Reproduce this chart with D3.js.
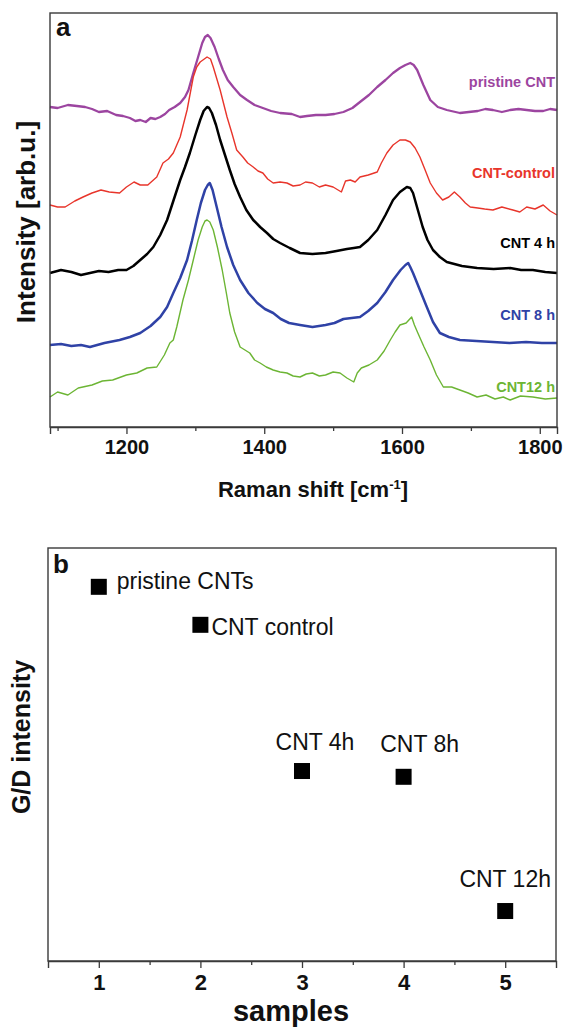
<!DOCTYPE html>
<html><head><meta charset="utf-8">
<script src="https://cdn.jsdelivr.net/npm/d3@7"></script>
<style>body{margin:0;background:#fff}svg{display:block}</style>
</head><body>
<svg id="c" width="567" height="1028"></svg>
<script>
// ---------- Panel a : Raman spectra (wavenumber cm-1, intensity arb.u. incl. offset) ----------
const pristineCNT = [[1089,318],[1100,317],[1115,320],[1128,319],[1140,318],[1150,316],[1160,313],[1172,314],[1185,310],[1195,309],[1205,307],[1213,304],[1220,305],[1228,303],[1235,307],[1242,306],[1249,308],[1256,311],[1262,315],[1270,318],[1278,322],[1285,328],[1290,335],[1297,352],[1304,368],[1310,382],[1314,388],[1318,390],[1322,387],[1328,378],[1334,366],[1340,355],[1347,345],[1355,338],[1365,330],[1375,325],[1386,320],[1398,317],[1410,314],[1423,312],[1440,311],[1452,308],[1462,309],[1475,310],[1489,310],[1502,311],[1515,313],[1528,317],[1539,323],[1552,330],[1564,338],[1576,345],[1587,352],[1597,357],[1605,360],[1612,362],[1617,360],[1622,355],[1631,340],[1641,325],[1652,318],[1665,315],[1684,312],[1697,313],[1710,314],[1721,316],[1732,315],[1745,313],[1757,315],[1769,316],[1781,315],[1793,314],[1805,314],[1815,316],[1825,315]];
const cntControl = [[1089,220],[1100,218],[1111,218],[1125,224],[1137,228],[1150,232],[1163,235],[1175,233],[1190,232],[1200,238],[1211,243],[1220,240],[1231,240],[1244,248],[1253,262],[1261,266],[1268,272],[1278,288],[1288,315],[1297,348],[1302,358],[1307,363],[1317,368],[1322,366],[1326,358],[1336,335],[1346,308],[1353,292],[1360,275],[1369,268],[1376,262],[1384,258],[1391,254],[1398,252],[1405,246],[1413,242],[1423,243],[1433,242],[1442,239],[1452,240],[1460,243],[1470,242],[1480,238],[1489,240],[1500,238],[1512,233],[1518,244],[1525,245],[1532,243],[1539,248],[1551,250],[1564,253],[1570,262],[1578,272],[1587,280],[1597,285],[1605,285],[1612,283],[1619,277],[1626,268],[1633,256],[1641,242],[1650,232],[1659,225],[1668,228],[1676,233],[1684,228],[1692,222],[1699,218],[1710,217],[1720,216],[1732,215],[1745,218],[1761,215],[1771,213],[1781,218],[1793,216],[1805,220],[1815,214],[1825,210]];
const cnt4h = [[1089,152],[1105,155],[1120,153],[1134,150],[1147,152],[1160,154],[1174,153],[1188,155],[1200,155],[1210,159],[1220,165],[1230,171],[1239,178],[1249,190],[1259,205],[1268,224],[1278,245],[1285,258],[1292,272],[1300,290],[1307,305],[1312,314],[1317,318],[1320,317],[1324,312],[1330,300],[1336,285],[1343,270],[1350,255],[1357,241],[1365,228],[1374,215],[1384,205],[1394,198],[1404,192],[1413,186],[1423,182],[1437,177],[1452,172],[1470,171],[1489,172],[1505,174],[1520,176],[1530,177],[1539,178],[1551,185],[1564,195],[1576,210],[1587,225],[1597,233],[1607,238],[1612,237],[1616,232],[1623,215],[1630,198],[1637,185],[1645,175],[1655,168],[1665,163],[1687,159],[1709,157],[1733,156],[1757,157],[1773,155],[1790,155],[1808,153],[1825,152]];
const cnt8h = [[1089,80],[1105,81],[1120,79],[1134,80],[1147,78],[1168,82],[1190,85],[1205,88],[1220,92],[1235,99],[1249,108],[1259,118],[1268,132],[1278,147],[1288,165],[1295,184],[1302,205],[1308,222],[1314,235],[1318,240],[1321,242],[1325,235],[1331,218],[1338,198],[1346,178],[1355,160],[1365,145],[1377,132],[1390,122],[1401,116],[1413,112],[1424,106],[1436,102],[1452,100],[1470,98],[1489,100],[1502,102],[1515,106],[1527,107],[1539,108],[1551,114],[1564,122],[1576,133],[1587,145],[1598,155],[1605,160],[1609,162],[1612,158],[1616,152],[1626,135],[1636,118],[1645,103],[1655,92],[1668,88],[1684,85],[1708,84],[1732,83],[1756,82],[1780,83],[1803,82],[1825,82]];
const cnt12h = [[1089,28],[1100,33],[1115,30],[1130,37],[1150,40],[1165,44],[1180,45],[1200,50],[1215,52],[1230,57],[1244,58],[1255,70],[1263,82],[1268,85],[1273,98],[1282,125],[1290,145],[1297,165],[1304,185],[1310,198],[1314,204],[1317,205],[1321,203],[1326,195],[1332,178],[1339,155],[1345,132],[1350,112],[1357,93],[1365,78],[1372,75],[1379,72],[1386,65],[1394,62],[1403,58],[1413,55],[1423,53],[1433,52],[1442,49],[1452,48],[1461,51],[1470,52],[1480,49],[1489,50],[1500,53],[1510,52],[1520,47],[1530,43],[1535,52],[1541,57],[1552,60],[1564,65],[1574,74],[1583,85],[1590,93],[1597,100],[1606,102],[1614,108],[1618,100],[1623,92],[1632,78],[1641,65],[1650,50],[1660,38],[1672,38],[1684,35],[1696,32],[1709,28],[1722,30],[1735,26],[1747,28],[1757,25],[1772,29],[1790,28],[1808,26],[1825,27]];
const spectraNames = ["pristine CNT","CNT-control","CNT 4 h","CNT 8 h","CNT12 h"];
const ramanTicks = [1200,1400,1600,1800];
const ramanMinorTicks = [1100,1300,1500,1700];

// ---------- Panel b : G/D intensity per sample ----------
const samples = [1,2,3,4,5];
const sampleNames = ["pristine CNTs","CNT control","CNT 4h","CNT 8h","CNT 12h"];
const gdIntensity = [0.906,0.814,0.460,0.446,0.121];
const sampleMinorTicks = [1.5,2.5,3.5,4.5];

// ---------- styling / layout ----------
const spectra = [pristineCNT, cntControl, cnt4h, cnt8h, cnt12h];
const spectraColors = ["#9c45a0","#e8352b","#000000","#2f42a6","#6cb534"];
const spectraWidths = [2.3,1.4,2.5,2.5,1.4];
const spectraLabelY = [82,173,243,315,387];
const sampleLabelStyle = [
  {anchor:"start", dx:18, dy:2},
  {anchor:"start", dx:11, dy:10},
  {anchor:"middle", dx:13, dy:-21},
  {anchor:"middle", dx:16, dy:-25},
  {anchor:"middle", dx:0, dy:-24}
];
const FONT = "'Liberation Sans', Arial, Helvetica, sans-serif";
const FRAME = "#3a3a3a";

const svg = d3.select("#c");
svg.append("rect").attr("width",567).attr("height",1028).attr("fill","#fff");

// ===== Panel a =====
const A = {l:50, r:557, t:13, b:427};
const xa = d3.scaleLinear().domain([1089,1825]).range([A.l, A.r]);
const ya = d3.scaleLinear().domain([-2,412]).range([A.b, A.t]);
const ga = svg.append("g");

const line = d3.line().x(d=>xa(d[0])).y(d=>ya(d[1]));
spectra.forEach((s,i)=>{
  ga.append("path").datum(s).attr("d",line).attr("fill","none")
    .attr("stroke",spectraColors[i]).attr("stroke-width",spectraWidths[i])
    .attr("stroke-linejoin","round");
  ga.append("text").attr("x",A.r-2).attr("y",spectraLabelY[i]).attr("dy","0.35em")
    .attr("text-anchor","end").attr("font-family",FONT).attr("font-weight","bold")
    .attr("font-size",14.5).attr("fill",spectraColors[i]).text(spectraNames[i]);
});

// frame
ga.append("rect").attr("x",A.l).attr("y",A.t).attr("width",A.r-A.l).attr("height",A.b-A.t)
  .attr("fill","none").attr("stroke",FRAME).attr("stroke-width",1.4);

// x axis major + minor
const axA = ga.append("g").attr("transform",`translate(0,${A.b})`)
  .call(d3.axisBottom(xa).tickValues(ramanTicks).tickSize(7).tickPadding(6).tickFormat(d3.format("d")));
axA.select(".domain").attr("stroke",FRAME).attr("stroke-width",1.4);
axA.selectAll(".tick line").attr("stroke",FRAME).attr("stroke-width",1.3);
axA.selectAll(".tick text").attr("font-family",FONT).attr("font-weight","bold").attr("font-size",20).attr("fill","#111");
const axAm = ga.append("g").attr("transform",`translate(0,${A.b})`)
  .call(d3.axisBottom(xa).tickValues(ramanMinorTicks).tickSize(4).tickFormat(""));
axAm.select(".domain").remove();
axAm.selectAll(".tick line").attr("stroke",FRAME).attr("stroke-width",1.3);

// titles
const xt = ga.append("text").attr("x",313).attr("y",497).attr("text-anchor","middle")
  .attr("font-family",FONT).attr("font-weight","bold").attr("font-size",22).attr("fill","#111");
xt.append("tspan").text("Raman shift [cm");
xt.append("tspan").attr("dy",-8).attr("font-size",13).text("-1");
xt.append("tspan").attr("dy",8).text("]");

ga.append("text").attr("transform","translate(35,222) rotate(-90)").attr("text-anchor","middle")
  .attr("font-family",FONT).attr("font-weight","bold").attr("font-size",26).attr("fill","#111")
  .text("Intensity [arb.u.]");
ga.append("text").attr("x",56).attr("y",36).attr("font-family",FONT).attr("font-weight","bold")
  .attr("font-size",26).attr("fill","#111").text("a");

// ===== Panel b =====
const B = {l:48, r:556, t:548, b:961};
const xb = d3.scaleLinear().domain([0.5,5.5]).range([B.l, B.r]);
const yb = d3.scaleLinear().domain([0,1]).range([B.b, B.t]);
const gb = svg.append("g");

gb.append("rect").attr("x",B.l).attr("y",B.t).attr("width",B.r-B.l).attr("height",B.b-B.t)
  .attr("fill","none").attr("stroke",FRAME).attr("stroke-width",1.4);

const axB = gb.append("g").attr("transform",`translate(0,${B.b})`)
  .call(d3.axisBottom(xb).tickValues(samples).tickSize(7).tickPadding(6).tickFormat(d3.format("d")));
axB.select(".domain").attr("stroke",FRAME).attr("stroke-width",1.4);
axB.selectAll(".tick line").attr("stroke",FRAME).attr("stroke-width",1.3);
axB.selectAll(".tick text").attr("font-family",FONT).attr("font-weight","bold").attr("font-size",22).attr("fill","#111");
const axBm = gb.append("g").attr("transform",`translate(0,${B.b})`)
  .call(d3.axisBottom(xb).tickValues(sampleMinorTicks).tickSize(4).tickFormat(""));
axBm.select(".domain").remove();
axBm.selectAll(".tick line").attr("stroke",FRAME).attr("stroke-width",1.3);

const SQ = 16;
gb.selectAll("rect.pt").data(samples).enter().append("rect").attr("class","pt")
  .attr("x",(d)=>xb(d)-SQ/2).attr("y",(d,i)=>yb(gdIntensity[i])-SQ/2)
  .attr("width",SQ).attr("height",SQ).attr("fill","#000");

gb.selectAll("text.lbl").data(samples).enter().append("text").attr("class","lbl")
  .attr("x",(d,i)=>xb(d)+sampleLabelStyle[i].dx)
  .attr("y",(d,i)=>yb(gdIntensity[i])+sampleLabelStyle[i].dy)
  .attr("text-anchor",(d,i)=>sampleLabelStyle[i].anchor)
  .attr("font-family",FONT).attr("font-size",23).attr("fill","#111")
  .text((d,i)=>sampleNames[i]);

gb.append("text").attr("x",291).attr("y",1021).attr("text-anchor","middle")
  .attr("font-family",FONT).attr("font-weight","bold").attr("font-size",29).attr("fill","#111")
  .text("samples");
gb.append("text").attr("transform","translate(30,737) rotate(-90)").attr("text-anchor","middle")
  .attr("font-family",FONT).attr("font-weight","bold").attr("font-size",25).attr("fill","#111")
  .text("G/D intensity");
gb.append("text").attr("x",53).attr("y",573).attr("font-family",FONT).attr("font-weight","bold")
  .attr("font-size",26).attr("fill","#111").text("b");
</script>
</body></html>
